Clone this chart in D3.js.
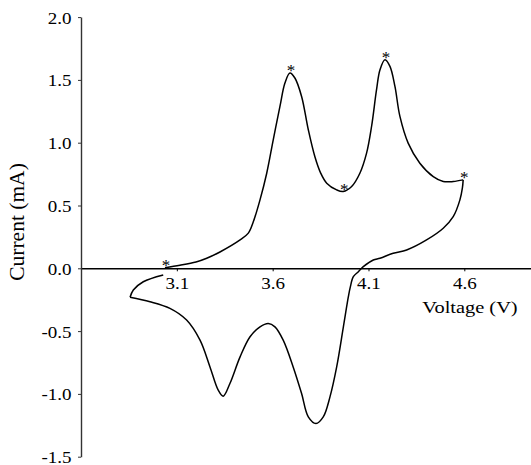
<!DOCTYPE html>
<html>
<head>
<meta charset="utf-8">
<script src="https://cdn.jsdelivr.net/npm/d3@7"></script>
<style>
  body { margin: 0; background: #fff; }
  text { font-family: "Liberation Serif", "Times New Roman", serif; fill: #000; }
</style>
</head>
<body>
<svg id="chart" width="531" height="465"></svg>
<script>
// Cyclic voltammogram: current (mA) vs. voltage (V)
const xTicks = [3.1, 3.6, 4.1, 4.6];
const yTicks = [-1.5, -1.0, -0.5, 0.0, 0.5, 1.0, 1.5, 2.0];

// Anodic sweep (charge), low to high voltage
const anodicV = [3.038, 3.116, 3.20, 3.256, 3.325, 3.43, 3.473, 3.499, 3.534, 3.569, 3.603, 3.638, 3.664, 3.69, 3.716, 3.751, 3.786, 3.82, 3.85, 3.882, 3.934, 3.968, 4.012, 4.055, 4.09, 4.116, 4.142, 4.16, 4.186, 4.212, 4.238, 4.264, 4.307, 4.368, 4.438, 4.49, 4.542, 4.594];
const anodicI = [0.005, 0.024, 0.05, 0.08, 0.13, 0.226, 0.28, 0.37, 0.545, 0.757, 1.023, 1.289, 1.475, 1.555, 1.515, 1.368, 1.103, 0.89, 0.76, 0.678, 0.624, 0.611, 0.651, 0.757, 0.917, 1.129, 1.422, 1.581, 1.661, 1.608, 1.448, 1.209, 0.997, 0.837, 0.73, 0.691, 0.691, 0.704];

// Cathodic sweep (discharge), high to low voltage
const cathodicV = [4.594, 4.590, 4.577, 4.542, 4.49, 4.403, 4.299, 4.229, 4.16, 4.125, 4.073, 4.047, 4.021, 4.005, 3.995, 3.969, 3.934, 3.899, 3.864, 3.826, 3.786, 3.751, 3.707, 3.655, 3.612, 3.577, 3.534, 3.482, 3.43, 3.377, 3.342, 3.316, 3.273, 3.221, 3.151, 3.064, 2.96, 2.856];
const cathodicI = [0.704, 0.64, 0.545, 0.411, 0.319, 0.226, 0.146, 0.12, 0.08, 0.066, 0.013, -0.027, -0.067, -0.15, -0.226, -0.466, -0.785, -1.024, -1.183, -1.236, -1.183, -0.997, -0.785, -0.572, -0.466, -0.439, -0.466, -0.545, -0.705, -0.917, -1.018, -0.97, -0.785, -0.572, -0.412, -0.319, -0.266, -0.231];

// Return segment after the lower vertex
const returnV = [2.856, 2.873, 2.925, 3.029];
const returnI = [-0.231, -0.173, -0.107, -0.053];

// Marked points (starred)
const markV = [3.038, 3.69, 3.968, 4.186, 4.594];
const markI = [0.005, 1.555, 0.611, 1.661, 0.704];

const svg = d3.select("#chart");
const x = d3.scaleLinear().domain([2.6, 4.95]).range([81, 531.4]);
const y = d3.scaleLinear().domain([-1.5, 2.0]).range([456.7, 17.1]);

const fmt = d => d.toFixed(1);
const tickScale = 1.12;

// x axis through zero current
const gx = svg.append("g")
  .attr("transform", `translate(0,${y(0)})`)
  .call(d3.axisBottom(x).tickValues(xTicks).tickSize(3).tickSizeOuter(0).tickFormat(fmt));
gx.select(".domain").attr("stroke", "#000").attr("stroke-width", 1.4);
gx.selectAll(".tick line").attr("stroke", "#000").attr("stroke-width", 1);
gx.selectAll(".tick text")
  .attr("y", 21).attr("dy", null)
  .attr("font-size", 17)
  .attr("font-family", null)
  .attr("transform", `scale(${tickScale},1)`);

// y axis
const gy = svg.append("g")
  .attr("transform", `translate(81,0)`)
  .call(d3.axisLeft(y).tickValues(yTicks).tickSize(3).tickSizeOuter(0).tickFormat(fmt));
gy.select(".domain").attr("stroke", "#333").attr("stroke-width", 1.4);
gy.selectAll(".tick line").attr("stroke", "#333").attr("stroke-width", 1);
gy.selectAll(".tick text")
  .attr("x", -9.5 / tickScale).attr("dy", null).attr("y", 6)
  .attr("font-size", 17)
  .attr("font-family", null)
  .attr("transform", `scale(${tickScale},1)`);

// Axis titles
svg.append("text")
  .attr("transform", "translate(470,313) scale(1.2,1)")
  .attr("text-anchor", "middle")
  .attr("font-size", 17)
  .text("Voltage (V)");

svg.append("text")
  .attr("transform", "translate(24,222) rotate(-90)")
  .attr("text-anchor", "middle")
  .attr("font-size", 21.5)
  .text("Current (mA)");

// Curve segments
const line = d3.line()
  .x(d => x(d[0]))
  .y(d => y(d[1]))
  .curve(d3.curveCatmullRom.alpha(0.5));

const segments = [
  d3.zip(anodicV, anodicI),
  d3.zip(cathodicV, cathodicI),
  d3.zip(returnV, returnI)
];

svg.append("g")
  .selectAll("path")
  .data(segments)
  .join("path")
  .attr("d", line)
  .attr("fill", "none")
  .attr("stroke", "#000")
  .attr("stroke-width", 1.5)
  .attr("stroke-linejoin", "round");

// Asterisks over marked points
svg.append("g")
  .selectAll("text")
  .data(d3.zip(markV, markI))
  .join("text")
  .attr("x", d => x(d[0]) + 1)
  .attr("y", d => y(d[1]) + 3)
  .attr("text-anchor", "middle")
  .attr("font-size", 17)
  .text("*");
</script>
</body>
</html>
